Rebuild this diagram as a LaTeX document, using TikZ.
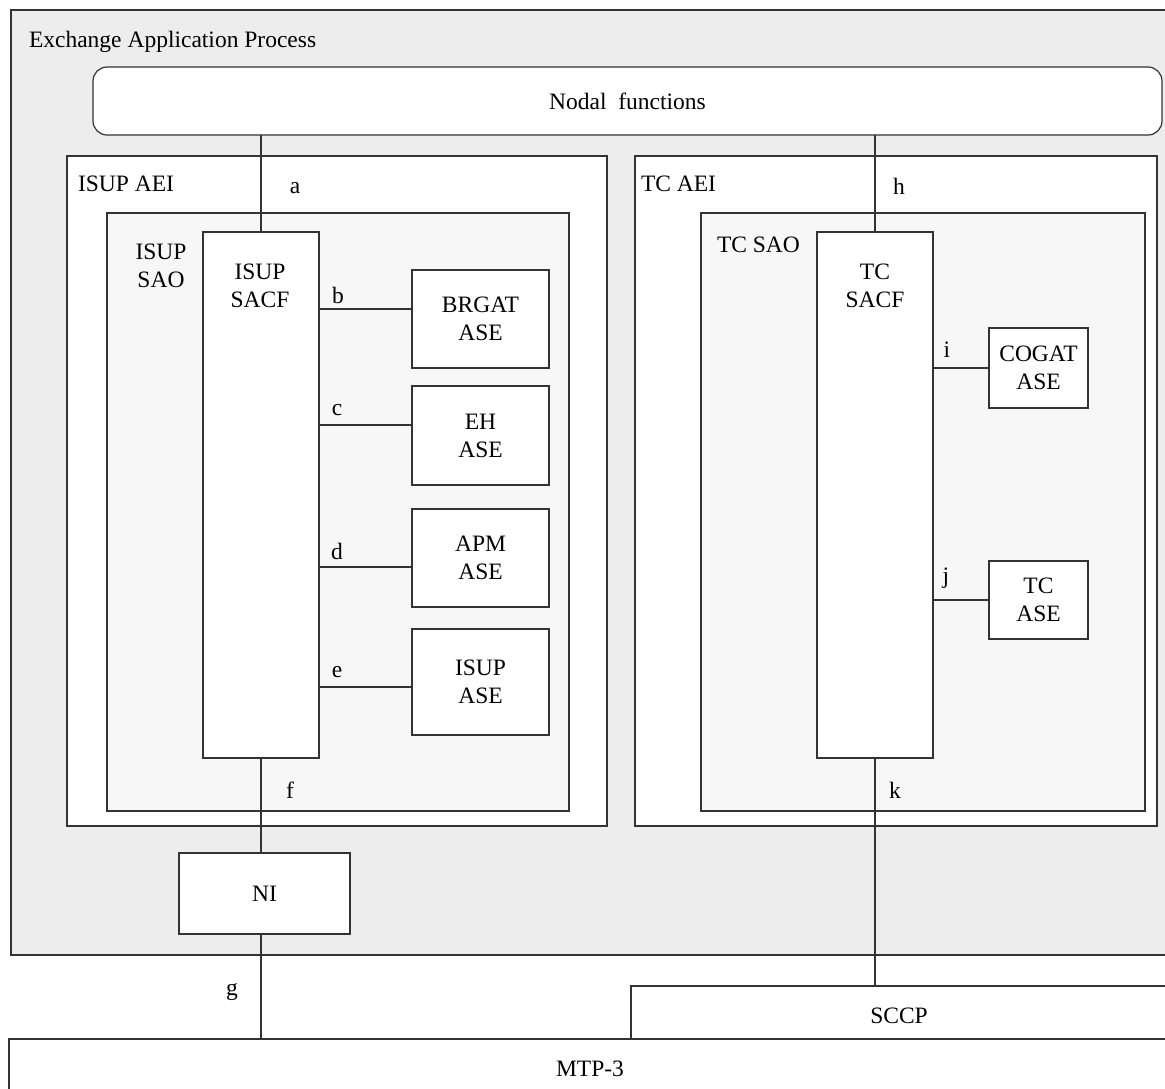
\documentclass[tikz,border=0pt]{standalone}
\usepackage{fontspec}
\setmainfont{Liberation Serif}
\definecolor{outerfill}{HTML}{EDEDED}
\definecolor{saofill}{HTML}{F7F7F7}
\definecolor{ink}{HTML}{333333}
\begin{document}
\begin{tikzpicture}[x=1pt,y=-1pt,
  font=\fontsize{23.5}{28}\selectfont,
  every node/.style={inner sep=0pt,outer sep=0pt},
  box/.style={draw=ink,line width=1.2pt,fill=white,align=center},
  saobox/.style={box,fill=saofill},
  lbl/.style={anchor=base},
  lblw/.style={anchor=base west},
  conn/.style={draw=ink,line width=1.2pt}]
\useasboundingbox (0,0) rectangle (1165,1088);
\fill[white] (0,0) rectangle (1165,1088);
% outer process area (open to the right)
\fill[outerfill] (11,10) rectangle (1170,955);
\draw[conn] (1170,10) -- (11,10) -- (11,955) -- (1170,955);
\node[lblw] (eaplbl) at (29,47) {Exchange Application Process};
% nodal functions
\node[box,rounded corners=14pt,minimum width=1069pt,minimum height=68pt] (nodal) at (627.5,101) {Nodal~~functions};
% ISUP side
\node[box,minimum width=540pt,minimum height=670pt] (isupaei) at (337,491) {};
\node[lblw] (isupaeilbl) at (78,191) {ISUP AEI};
\node[saobox,minimum width=462pt,minimum height=598pt] (isupsao) at (338,512) {};
\node[lbl,align=center] (isupsaolbl) at (161,287) {ISUP\\SAO};
\node[box,minimum width=116pt,minimum height=526pt] (isacf) at (261,495) {};
\node[lbl,align=center] (isacflbl) at (260,307) {ISUP\\SACF};
\node[box,minimum width=137pt,minimum height=98pt] (brgat) at (480.5,319) {BRGAT\\ASE};
\node[box,minimum width=137pt,minimum height=99pt] (eh) at (480.5,435.5) {EH\\ASE};
\node[box,minimum width=137pt,minimum height=98pt] (apm) at (480.5,558) {APM\\ASE};
\node[box,minimum width=137pt,minimum height=106pt] (isupase) at (480.5,682) {ISUP\\ASE};
% TC side
\node[box,minimum width=522pt,minimum height=670pt] (tcaei) at (896,491) {};
\node[lblw] (tcaeilbl) at (641,191) {TC AEI};
\node[saobox,minimum width=444pt,minimum height=598pt] (tcsao) at (923,512) {};
\node[lblw] (tcsaolbl) at (717,252) {TC SAO};
\node[box,minimum width=116pt,minimum height=526pt] (tsacf) at (875,495) {};
\node[lbl,align=center] (tsacflbl) at (875,307) {TC\\SACF};
\node[box,minimum width=99pt,minimum height=80pt] (cogat) at (1038.5,368) {COGAT\\ASE};
\node[box,minimum width=99pt,minimum height=78pt] (tcase) at (1038.5,600) {TC\\ASE};
% NI
\node[box,minimum width=171pt,minimum height=81pt] (ni) at (264.5,893.5) {NI};
% SCCP and MTP-3 (open to the right / bottom)
\fill[white] (631,986) rectangle (1170,1039);
\draw[conn] (1170,986) -- (631,986) -- (631,1039);
\draw[conn] (1170,1039) -- (9,1039) -- (9,1100);
\coordinate (sccptop) at (631,986);
\coordinate (mtptop) at (9,1039);
\node[lbl] (sccplbl) at (899,1023) {SCCP};
\node[lbl] (mtplbl) at (590,1076) {MTP-3};
% connectors
\draw[conn] (isacf.north) -- (isacf.north |- nodal.south);
\draw[conn] (tsacf.north) -- (tsacf.north |- nodal.south);
\draw[conn] ([yshift=10pt]brgat.west) -- ([yshift=10pt]brgat.west -| isacf.east);
\draw[conn] ([yshift=10.5pt]eh.west) -- ([yshift=10.5pt]eh.west -| isacf.east);
\draw[conn] ([yshift=-9pt]apm.west) -- ([yshift=-9pt]apm.west -| isacf.east);
\draw[conn] ([yshift=-5pt]isupase.west) -- ([yshift=-5pt]isupase.west -| isacf.east);
\draw[conn] (isacf.south) -- (isacf.south |- ni.north);
\draw[conn] (ni.south -| isacf.south) -- (isacf.south |- mtptop);
\draw[conn] (cogat.west) -- (cogat.west -| tsacf.east);
\draw[conn] (tcase.west) -- (tcase.west -| tsacf.east);
\draw[conn] (tsacf.south) -- (tsacf.south |- sccptop);
% connector labels
\node[lbl] (la) at (295,193) {a};
\node[lbl] (lb) at (338,303) {b};
\node[lbl] (lc) at (337,415) {c};
\node[lbl] (ld) at (337,559) {d};
\node[lbl] (le) at (337,677) {e};
\node[lbl] (lf) at (290,798) {f};
\node[lbl] (lg) at (232,995) {g};
\node[lbl] (lh) at (899,194) {h};
\node[lbl] (li) at (947,357) {i};
\node[lbl] (lj) at (946,583) {j};
\node[lbl] (lk) at (895,798) {k};
\end{tikzpicture}
\end{document}
